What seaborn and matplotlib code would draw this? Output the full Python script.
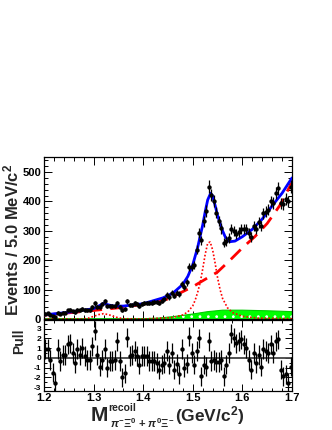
import numpy as np
import pandas as pd
import matplotlib
matplotlib.use("Agg")
import matplotlib.pyplot as plt
import seaborn as sns
from matplotlib.ticker import MultipleLocator

# ---------------- data ----------------
bin_lo, bin_hi, bin_w = 1.2, 1.7, 0.005
counts = [18, 19, 15, 11, 7, 22, 18, 21, 22, 29,
          31, 27, 23, 31, 29, 34, 31, 29, 30, 40,
          53, 42, 40, 50, 60, 43, 45, 43, 43, 55,
          42, 31, 34, 60, 47, 49, 53, 50, 45, 52,
          54, 55, 54, 56, 58, 58, 55, 62, 68, 82,
          74, 90, 79, 90, 85, 119, 109, 125, 177, 177,
          185, 235, 294, 267, 332, 367, 450, 422, 401, 362,
          333, 308, 260, 265, 276, 305, 298, 290, 297, 306,
          306, 305, 291, 279, 317, 307, 329, 317, 359, 365,
          372, 400, 394, 429, 444, 393, 391, 407, 400, 450]

pulls = [0.9, 0.9, -0.2, -1.5, -2.6, 0.9, -0.3, 0.3, 0.3, 1.4,
         1.5, 0.5, -0.5, 0.9, 0.3, 1.0, 0.2, -0.2, -0.2, 1.2,
         2.8, 0.3, -0.9, -0.2, 0.9, -1.0, -0.3, -0.3, -0.2, 1.7,
         -0.3, -2.0, -1.6, 2.1, 0.2, 0.3, 0.7, 0.2, -0.7, 0.2,
         0.2, 0.2, -0.3, -0.3, -0.3, -0.5, -1.2, -0.7, -0.5, 0.7,
         -0.7, 0.5, -1.2, -0.6, -1.7, 0.9, -1.0, -0.6, 2.2, 0.5,
         -0.7, 0.7, 2.0, -1.9, -0.7, -0.9, 1.7, -0.3, -0.2, -0.4,
         -0.4, -0.2, -1.9, -0.7, 0.5, 2.5, 2.1, 1.5, 1.7, 1.9,
         1.4, 1.0, -0.2, -1.2, 0.5, -0.5, 0.3, -0.9, 0.9, 0.7,
         0.5, 1.4, 0.5, 1.7, 1.9, -1.2, -1.9, -1.7, -2.6, -0.9]

# total fit (blue)
fit_x = [1.20, 1.25, 1.30, 1.31, 1.32, 1.33, 1.34, 1.36, 1.40, 1.44, 1.46, 1.48,
         1.49, 1.50, 1.51, 1.52, 1.525, 1.53, 1.536, 1.54, 1.546, 1.55, 1.556,
         1.56, 1.566, 1.575, 1.585, 1.60, 1.62, 1.64, 1.66, 1.68, 1.70]
fit_y = [14, 23, 35, 44, 53, 48, 44, 44, 52, 72, 88, 118,
         145, 185, 245, 320, 365, 405, 428, 418, 380, 352, 320,
         300, 277, 263, 265, 280, 305, 340, 385, 428, 480]

# combinatorial background (red dashed)
bkg_x = [1.20, 1.25, 1.30, 1.35, 1.40, 1.45, 1.50, 1.525, 1.55, 1.575, 1.60,
         1.625, 1.65, 1.675, 1.70]
bkg_y = [13, 21, 29, 38, 50, 68, 110, 135, 160, 200, 242, 280, 325, 385, 465]

# signal components (red dotted)
sig_x = [1.20, 1.28, 1.29, 1.30, 1.31, 1.32, 1.33, 1.34, 1.35, 1.36, 1.40, 1.46,
         1.48, 1.49, 1.50, 1.505, 1.51, 1.515, 1.52, 1.525, 1.53, 1.535, 1.54,
         1.545, 1.55, 1.555, 1.56, 1.57, 1.58, 1.60, 1.63, 1.70]
sig_y = [0, 0, 3, 9, 15, 18, 15, 9, 4, 1, 0, 5,
         14, 24, 45, 65, 92, 125, 170, 220, 258, 262, 235,
         190, 140, 100, 70, 38, 22, 9, 3, 1]

# peaking background (green)
pk_x = [1.20, 1.40, 1.43, 1.46, 1.50, 1.53, 1.56, 1.60, 1.65, 1.70]
pk_y = [1, 1, 3, 8, 17, 25, 30, 30, 28, 25]

xticks = [1.2, 1.3, 1.4, 1.5, 1.6, 1.7]
yticks_top = [0, 100, 200, 300, 400, 500]
yticks_pull = [-3, -2, -1, 0, 1, 2, 3]

centers = np.round(np.arange(len(counts)) * bin_w + bin_lo + bin_w / 2, 4)
df = pd.DataFrame({"m": centers, "n": counts, "err": np.sqrt(counts), "pull": pulls})

# ---------------- style ----------------
sns.set_theme(style="ticks")
plt.rcParams["font.family"] = ["Liberation Sans", "DejaVu Sans"]
plt.rcParams["font.weight"] = "bold"
plt.rcParams["mathtext.fontset"] = "custom"
plt.rcParams["mathtext.rm"] = "Liberation Sans:bold"
plt.rcParams["mathtext.bf"] = "Liberation Sans:bold"
plt.rcParams["mathtext.it"] = "Liberation Sans:bold:italic"
plt.rcParams["mathtext.sf"] = "Liberation Sans:bold"
plt.rcParams["hatch.color"] = "white"
plt.rcParams["hatch.linewidth"] = 0.8

W, H = 332, 430
fig = plt.figure(figsize=(W / 100, H / 100), dpi=100)
L, R = 44, 292
ax1 = fig.add_axes([L / W, 1 - 319 / H, (R - L) / W, 162 / H])
ax2 = fig.add_axes([L / W, 1 - 391 / H, (R - L) / W, 71 / H])

# ---------------- top panel ----------------
ax1.fill_between(pk_x, 0, pk_y, facecolor="#00ff00", edgecolor="white",
                 hatch="..", linewidth=0, zorder=1)
sns.lineplot(x=pk_x, y=pk_y, ax=ax1, color="#00cc00", lw=0.8,
             sort=False, estimator=None, zorder=1.5)
sns.lineplot(x=sig_x, y=sig_y, ax=ax1, color="#ff0000", lw=1.2,
             linestyle=(0, (1, 1.2)), sort=False, estimator=None, zorder=2)
sns.lineplot(x=bkg_x, y=bkg_y, ax=ax1, color="#ff0000", lw=2.0,
             linestyle=(0, (5, 3)), sort=False, estimator=None, zorder=3)
sns.lineplot(x=fit_x, y=fit_y, ax=ax1, color="#0000ff", lw=2.0,
             sort=False, estimator=None, zorder=4)
ax1.errorbar(df["m"], df["n"], yerr=df["err"], fmt="none", ecolor="black",
             elinewidth=0.9, capsize=0, zorder=5)
sns.scatterplot(data=df, x="m", y="n", ax=ax1, color="black", s=10,
                linewidth=0, zorder=6)

ax1.set_xlim(bin_lo, bin_hi)
ax1.set_ylim(0, 551)
ax1.set_yticks(yticks_top)
ax1.set_yticklabels([str(v) for v in yticks_top], fontsize=8, fontweight="bold")
ax1.set_xticks(xticks)
ax1.set_xticklabels([])
ax1.xaxis.set_minor_locator(MultipleLocator(0.02))
ax1.yaxis.set_minor_locator(MultipleLocator(20))
ax1.set_xlabel("")
ax1.set_ylabel("")

# ---------------- pull panel ----------------
ax2.axhline(0, color="#444444", lw=1.3, zorder=1)
ax2.errorbar(df["m"], df["pull"], yerr=1.0, fmt="none", ecolor="black",
             elinewidth=0.9, capsize=0, zorder=2)
sns.scatterplot(data=df, x="m", y="pull", ax=ax2, color="black", s=10,
                linewidth=0, zorder=3)
ax2.set_xlim(bin_lo, bin_hi)
ax2.set_ylim(-3.4, 3.9)
ax2.set_yticks(yticks_pull)
ax2.set_yticklabels([str(v) for v in yticks_pull], fontsize=6, fontweight="bold")
ax2.set_xticks(xticks)
ax2.set_xticklabels([f"{v:.1f}" for v in xticks], fontsize=8, fontweight="bold")
ax2.xaxis.set_minor_locator(MultipleLocator(0.02))
ax2.yaxis.set_minor_locator(MultipleLocator(0.5))
ax2.set_xlabel("")
ax2.set_ylabel("")

for ax in (ax1, ax2):
    for sp in ax.spines.values():
        sp.set_visible(True)
        sp.set_linewidth(0.9)
        sp.set_color("black")
    ax.tick_params(which="both", direction="in", top=True, right=True,
                   colors="black", width=0.7)
    ax.tick_params(which="major", length=6, pad=2)
    ax.tick_params(which="minor", length=3)
    ax.set_facecolor("white")

ax2.tick_params(axis="x", which="major", pad=1.5)
ax2.tick_params(which="major", length=5)
ax2.tick_params(which="minor", length=2.5)

# ---------------- labels ----------------
fig.text(11 / W, 1 - 240 / H, "Events / 5.0 MeV/c$^{2}$", rotation=90,
         ha="center", va="center", fontsize=12, fontweight="bold")
fig.text(19 / W, 1 - 341 / H, "Pull", rotation=90, ha="center", va="center",
         fontsize=10, fontweight="bold")
# x-axis title pieces: M, superscript, subscript, units
fig.text(91 / W, 1 - 421 / H, "M", ha="left", va="baseline",
         fontsize=15, fontweight="bold")
fig.text(108 / W, 1 - 411 / H, "recoil", ha="left", va="baseline",
         fontsize=7.5, fontweight="bold")
fig.text(110 / W, 1 - 428.5 / H,
         r"$\pi^{-}\Xi^{0}$ + $\pi^{0}\Xi^{-}$",
         ha="left", va="baseline", fontsize=8, fontweight="bold")
fig.text(175 / W, 1 - 421 / H, "(GeV/c$^{2}$)", ha="left", va="baseline",
         fontsize=12.5, fontweight="bold")

fig.savefig("out.png", dpi=100, facecolor="white")
